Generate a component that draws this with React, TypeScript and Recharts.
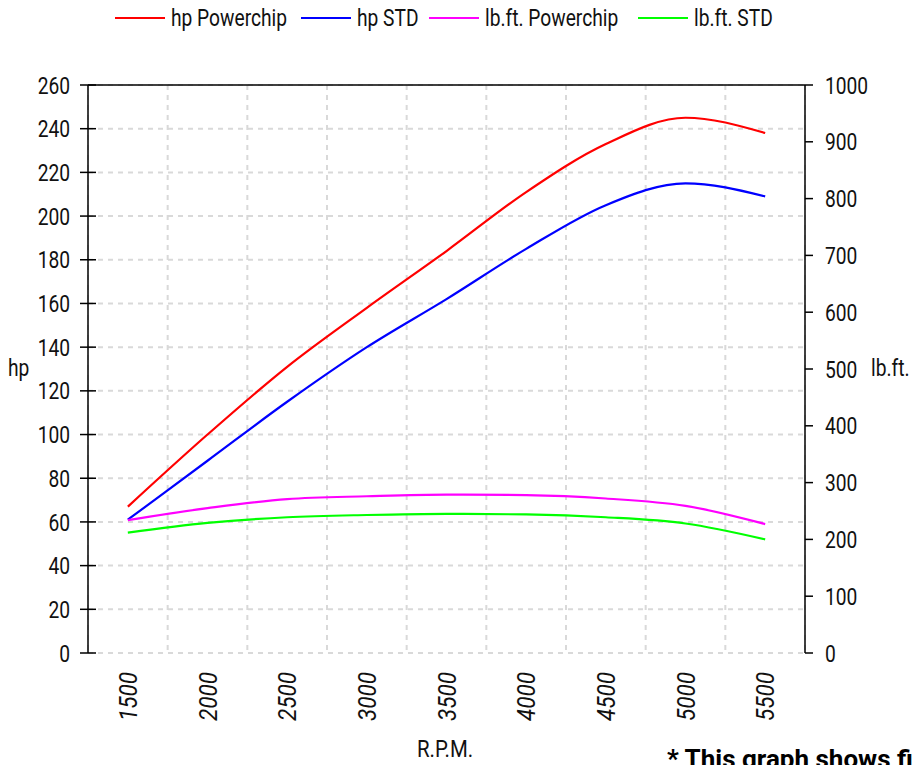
import React from "react";
import { LineChart, Line, XAxis, YAxis, CartesianGrid, ReferenceLine } from "recharts";

const rpm = [1500, 2000, 2500, 3000, 3500, 4000, 4500, 5000, 5500];
const boundaries = [1250, 1750, 2250, 2750, 3250, 3750, 4250, 4750, 5250, 5750];
const hpPowerchip = [67, 100, 131, 158, 184, 211, 233, 245, 238];
const hpStd = [61, 88, 115, 140, 162, 185, 205, 215, 209];
const lbftPowerchip = [234, 255, 271, 276, 279, 278, 272, 259, 227];
const lbftStd = [212, 229, 239, 243, 245, 244, 239, 228, 200];
const hpTicks = [0, 20, 40, 60, 80, 100, 120, 140, 160, 180, 200, 220, 240, 260];
const lbftTicks = [0, 100, 200, 300, 400, 500, 600, 700, 800, 900, 1000];

const seriesInfo = [
  { key: "hpPowerchip", name: "hp Powerchip", color: "#ff0000", axis: "left" },
  { key: "hpStd", name: "hp STD", color: "#0000ff", axis: "left" },
  { key: "lbftPowerchip", name: "lb.ft. Powerchip", color: "#ff00ff", axis: "right" },
  { key: "lbftStd", name: "lb.ft. STD", color: "#00ff00", axis: "right" },
];
const legendX = [115, 301, 429, 638];

const data = rpm.map((r, i) => ({
  rpm: r,
  hpPowerchip: hpPowerchip[i],
  hpStd: hpStd[i],
  lbftPowerchip: lbftPowerchip[i],
  lbftStd: lbftStd[i],
}));

const FONT = "Roboto, 'Liberation Sans', sans-serif";
const FS = 24;
const SX = 0.8;
const W = 913;
const H = 765;
const M = { top: 85, left: 28, right: 48, bottom: 0 };
const YW = 60;
const LEFT = M.left + YW;
const RIGHT = W - M.right - YW;
const BOTTOM = 653;

const CondText = ({ x, y, anchor, rotate, italic, size, sx, children }: any) => (
  <g transform={`translate(${x},${y})${rotate ? " rotate(-90)" : ""} scale(${sx || SX},1)`}>
    <text
      x={0}
      y={0}
      dy="0.36em"
      textAnchor={anchor}
      fontSize={size || FS}
      fontFamily={FONT}
      fontStyle={italic ? "italic" : "normal"}
      fill="#111"
    >
      {children}
    </text>
  </g>
);

const LeftTick = (p: any) => (
  <g>
    <line x1={LEFT - 8} x2={LEFT + 8} y1={p.y} y2={p.y} stroke="#000" strokeWidth={1.5} />
    <CondText x={LEFT - 18} y={p.y} anchor="end">{p.payload.value}</CondText>
  </g>
);

const RightTick = (p: any) => (
  <g>
    <line x1={RIGHT} x2={RIGHT + 8} y1={p.y} y2={p.y} stroke="#000" strokeWidth={1.5} />
    <CondText x={RIGHT + 20} y={p.y} anchor="start">{p.payload.value}</CondText>
  </g>
);

const LabelTick = (p: any) => (
  <CondText x={p.x} y={BOTTOM + 19} anchor="end" rotate italic size={25} sx={0.9}>
    {p.payload.value}
  </CondText>
);

const BoundaryTick = (p: any) => (
  <line x1={p.x} x2={p.x} y1={BOTTOM - 8} y2={BOTTOM + 9} stroke="#000" strokeWidth={1.5} />
);

const cond = (origin: string, sx = SX): React.CSSProperties => ({
  display: "inline-block",
  transform: `scaleX(${sx})`,
  transformOrigin: origin,
  whiteSpace: "nowrap",
});

export default function App() {
  return (
    <div style={{ position: "absolute", left: 0, top: 0, width: W, height: H, overflow: "hidden", background: "#fff", fontFamily: FONT, lineHeight: 1, color: "#111" }}>
      {seriesInfo.map((s, i) => (
        <div key={s.key} style={{ position: "absolute", left: legendX[i], top: 6, height: 24, display: "flex", alignItems: "center", fontSize: FS }}>
          <div style={{ width: 50, height: 2, background: s.color, marginRight: 6 }} />
          <span style={cond("left center")}>{s.name}</span>
        </div>
      ))}
      <LineChart width={W} height={H} data={data} margin={M}>
        <CartesianGrid xAxisId="grid" yAxisId="left" stroke="#d9d9d9" strokeWidth={2} strokeDasharray="5 5" />
        <XAxis
          xAxisId="grid"
          dataKey="rpm"
          type="number"
          domain={[1250, 5750]}
          ticks={boundaries}
          height={0}
          axisLine={{ stroke: "#000", strokeWidth: 1.5 }}
          tickLine={false}
          tick={<BoundaryTick />}
          interval={0}
        />
        <XAxis
          xAxisId="lab"
          dataKey="rpm"
          type="number"
          domain={[1250, 5750]}
          ticks={rpm}
          height={112}
          axisLine={false}
          tickLine={false}
          tick={<LabelTick />}
          interval={0}
        />
        <YAxis
          yAxisId="left"
          domain={[0, 260]}
          ticks={hpTicks}
          width={YW}
          axisLine={{ stroke: "#000", strokeWidth: 1.5 }}
          tickLine={false}
          tick={<LeftTick />}
          interval={0}
        />
        <YAxis
          yAxisId="right"
          orientation="right"
          domain={[0, 1000]}
          ticks={lbftTicks}
          width={YW}
          axisLine={{ stroke: "#000", strokeWidth: 1.5 }}
          tickLine={false}
          tick={<RightTick />}
          interval={0}
        />
        <ReferenceLine xAxisId="lab" yAxisId="left" y={260} stroke="#000" strokeWidth={1.5} />
        {seriesInfo.map((s) => (
          <Line
            key={s.key}
            xAxisId="lab"
            yAxisId={s.axis}
            type="monotone"
            dataKey={s.key}
            name={s.name}
            stroke={s.color}
            strokeWidth={2.2}
            dot={false}
            activeDot={false}
            isAnimationActive={false}
          />
        ))}
      </LineChart>
      <div style={{ position: "absolute", left: 8, top: 356, fontSize: FS }}>
        <span style={cond("left center")}>hp</span>
      </div>
      <div style={{ position: "absolute", left: 871, top: 356, fontSize: FS }}>
        <span style={cond("left center")}>lb.ft.</span>
      </div>
      <div style={{ position: "absolute", left: 345, width: 200, top: 737, textAlign: "center", fontSize: FS }}>
        <span style={cond("center center", 0.85)}>R.P.M.</span>
      </div>
      <div style={{ position: "absolute", left: 667, top: 746, fontSize: 26, fontWeight: "bold", color: "#000" }}>
        <span style={cond("left center", 1.0)}>* This graph shows figures at the wheels</span>
      </div>
    </div>
  );
}
